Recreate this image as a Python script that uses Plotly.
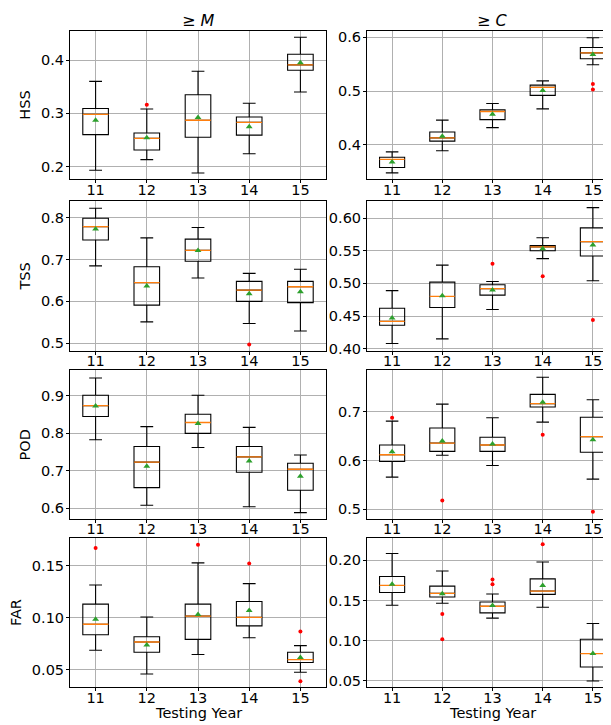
import plotly.graph_objects as go

years = [11, 12, 13, 14, 15]

# ---- HSS, >= M ----
hss_m_lo = [0.193, 0.213, 0.188, 0.224, 0.340]
hss_m_q1 = [0.260, 0.231, 0.255, 0.259, 0.381]
hss_m_med = [0.298, 0.253, 0.287, 0.283, 0.391]
hss_m_q3 = [0.309, 0.263, 0.335, 0.293, 0.411]
hss_m_hi = [0.360, 0.308, 0.379, 0.319, 0.443]
hss_m_mean = [0.287, 0.254, 0.292, 0.275, 0.395]
hss_m_out_x = [12]
hss_m_out_y = [0.316]

# ---- HSS, >= C ----
hss_c_lo = [0.348, 0.389, 0.432, 0.467, 0.549]
hss_c_q1 = [0.358, 0.407, 0.447, 0.492, 0.560]
hss_c_med = [0.373, 0.413, 0.462, 0.507, 0.571]
hss_c_q3 = [0.377, 0.424, 0.465, 0.511, 0.581]
hss_c_hi = [0.387, 0.446, 0.477, 0.519, 0.599]
hss_c_mean = [0.368, 0.416, 0.457, 0.501, 0.568]
hss_c_out_x = [15, 15]
hss_c_out_y = [0.513, 0.503]

# ---- TSS, >= M ----
tss_m_lo = [0.685, 0.551, 0.656, 0.547, 0.529]
tss_m_q1 = [0.747, 0.591, 0.696, 0.600, 0.597]
tss_m_med = [0.779, 0.645, 0.722, 0.627, 0.635]
tss_m_q3 = [0.799, 0.683, 0.749, 0.648, 0.648]
tss_m_hi = [0.823, 0.752, 0.777, 0.667, 0.677]
tss_m_mean = [0.773, 0.637, 0.722, 0.618, 0.623]
tss_m_out_x = [14]
tss_m_out_y = [0.497]

# ---- TSS, >= C ----
tss_c_lo = [0.408, 0.415, 0.460, 0.538, 0.504]
tss_c_q1 = [0.436, 0.463, 0.482, 0.550, 0.542]
tss_c_med = [0.442, 0.480, 0.492, 0.556, 0.564]
tss_c_q3 = [0.462, 0.502, 0.498, 0.558, 0.585]
tss_c_hi = [0.489, 0.528, 0.503, 0.570, 0.616]
tss_c_mean = [0.447, 0.481, 0.490, 0.553, 0.559]
tss_c_out_x = [13, 14, 15]
tss_c_out_y = [0.530, 0.511, 0.444]

# ---- POD, >= M ----
pod_m_lo = [0.783, 0.608, 0.762, 0.604, 0.588]
pod_m_q1 = [0.845, 0.655, 0.800, 0.696, 0.648]
pod_m_med = [0.874, 0.723, 0.829, 0.737, 0.704]
pod_m_q3 = [0.902, 0.765, 0.851, 0.765, 0.720]
pod_m_hi = [0.948, 0.818, 0.902, 0.816, 0.742]
pod_m_mean = [0.873, 0.712, 0.826, 0.726, 0.685]
pod_m_out_x = []
pod_m_out_y = []

# ---- POD, >= C ----
pod_c_lo = [0.566, 0.611, 0.590, 0.679, 0.562]
pod_c_q1 = [0.598, 0.619, 0.619, 0.710, 0.617]
pod_c_med = [0.612, 0.636, 0.632, 0.717, 0.649]
pod_c_q3 = [0.632, 0.667, 0.648, 0.736, 0.689]
pod_c_hi = [0.681, 0.716, 0.688, 0.771, 0.725]
pod_c_mean = [0.618, 0.640, 0.634, 0.720, 0.643]
pod_c_out_x = [11, 12, 14, 15]
pod_c_out_y = [0.688, 0.518, 0.653, 0.495]

# ---- FAR, >= M ----
far_m_lo = [0.0687, 0.0459, 0.0646, 0.0808, 0.0475]
far_m_q1 = [0.0837, 0.0668, 0.0792, 0.0922, 0.0570]
far_m_med = [0.0938, 0.0767, 0.1017, 0.1005, 0.0598]
far_m_q3 = [0.1132, 0.0817, 0.1132, 0.1157, 0.0668]
far_m_hi = [0.1316, 0.1008, 0.1529, 0.1329, 0.0732]
far_m_mean = [0.0986, 0.0738, 0.1033, 0.1071, 0.0617]
far_m_out_x = [11, 13, 14, 15, 15]
far_m_out_y = [0.1671, 0.1703, 0.1522, 0.0868, 0.0389]

# ---- FAR, >= C ----
far_c_lo = [0.1441, 0.1466, 0.1281, 0.1416, 0.0500]
far_c_q1 = [0.1601, 0.1544, 0.1347, 0.1577, 0.0673]
far_c_med = [0.1688, 0.1589, 0.1429, 0.1618, 0.0841]
far_c_q3 = [0.1799, 0.1679, 0.1482, 0.1770, 0.1018]
far_c_hi = [0.2086, 0.1868, 0.1581, 0.1979, 0.1215]
far_c_mean = [0.1704, 0.1585, 0.1437, 0.1688, 0.0841]
far_c_out_x = [12, 12, 13, 13, 14]
far_c_out_y = [0.1334, 0.1018, 0.1762, 0.1704, 0.2201]

row_labels = ["HSS", "TSS", "POD", "FAR"]
col_titles = ["\u2265 <i>M</i>", "\u2265 <i>C</i>"]
x_title = "Testing Year"

panels = [
    (hss_m_lo, hss_m_q1, hss_m_med, hss_m_q3, hss_m_hi, hss_m_mean, hss_m_out_x, hss_m_out_y),
    (hss_c_lo, hss_c_q1, hss_c_med, hss_c_q3, hss_c_hi, hss_c_mean, hss_c_out_x, hss_c_out_y),
    (tss_m_lo, tss_m_q1, tss_m_med, tss_m_q3, tss_m_hi, tss_m_mean, tss_m_out_x, tss_m_out_y),
    (tss_c_lo, tss_c_q1, tss_c_med, tss_c_q3, tss_c_hi, tss_c_mean, tss_c_out_x, tss_c_out_y),
    (pod_m_lo, pod_m_q1, pod_m_med, pod_m_q3, pod_m_hi, pod_m_mean, pod_m_out_x, pod_m_out_y),
    (pod_c_lo, pod_c_q1, pod_c_med, pod_c_q3, pod_c_hi, pod_c_mean, pod_c_out_x, pod_c_out_y),
    (far_m_lo, far_m_q1, far_m_med, far_m_q3, far_m_hi, far_m_mean, far_m_out_x, far_m_out_y),
    (far_c_lo, far_c_q1, far_c_med, far_c_q3, far_c_hi, far_c_mean, far_c_out_x, far_c_out_y),
]

# layout settings (per panel): y-range, dtick, tick format
y_ranges = [[0.176, 0.455], [0.336, 0.612], [0.482, 0.840], [0.397, 0.626],
            [0.571, 0.968], [0.480, 0.785], [0.033, 0.177], [0.042, 0.228]]
y_dticks = [0.1, 0.1, 0.1, 0.05, 0.1, 0.1, 0.05, 0.05]
y_fmts = [".1f", ".1f", ".1f", ".2f", ".1f", ".1f", ".2f", ".2f"]

W, H = 611, 725
col_px = [(62, 318), (359, 610)]
row_px = [(22, 172), (194, 345), (365, 515), (534, 685)]

FONT = "DejaVu Sans"
FS = 14.5
GRID = "#b0b0b0"

fig = go.Figure()
layout = dict(
    width=W, height=H, margin=dict(l=0, r=0, t=0, b=0),
    paper_bgcolor="white", plot_bgcolor="white", showlegend=False,
    font=dict(family=FONT, size=FS, color="black"), boxmode="overlay",
)

for i, (lo, q1, med, q3, hi, mean, ox, oy) in enumerate(panels):
    r, c = divmod(i, 2)
    n = i + 1
    xa = "x" if n == 1 else f"x{n}"
    ya = "y" if n == 1 else f"y{n}"
    # box + whiskers
    fig.add_trace(go.Box(
        x=years, q1=q1, median=med, q3=q3, lowerfence=lo, upperfence=hi,
        width=0.5, whiskerwidth=0.5, boxpoints=False,
        line=dict(color="black", width=1.1), fillcolor="rgba(0,0,0,0)",
        xaxis=xa, yaxis=ya, hoverinfo="skip",
    ))
    # median line (orange) drawn over the black one
    fig.add_trace(go.Box(
        x=years, q1=med, median=med, q3=med, lowerfence=med, upperfence=med,
        width=0.5, whiskerwidth=0, boxpoints=False,
        line=dict(color="#ff7f0e", width=1.3), fillcolor="rgba(0,0,0,0)",
        xaxis=xa, yaxis=ya, hoverinfo="skip",
    ))
    # means
    fig.add_trace(go.Scatter(
        x=years, y=mean, mode="markers",
        marker=dict(symbol="triangle-up", color="#2ca02c", size=6),
        xaxis=xa, yaxis=ya,
    ))
    # outliers
    if ox:
        fig.add_trace(go.Scatter(
            x=ox, y=oy, mode="markers",
            marker=dict(symbol="circle", color="red", size=4),
            xaxis=xa, yaxis=ya,
        ))
    x0, x1 = col_px[c]
    y0, y1 = row_px[r]
    axis_common = dict(
        showline=True, linecolor="black", linewidth=1, mirror=True,
        ticks="outside", ticklen=3, tickcolor="black",
        showgrid=True, gridcolor=GRID, gridwidth=1, zeroline=False,
        tickfont=dict(family=FONT, size=FS, color="black"),
    )
    xdict = dict(axis_common, domain=[x0 / W, x1 / W], range=[10.5, 15.5],
                 tickmode="array", tickvals=years, ticktext=[str(y) for y in years],
                 anchor=ya, ticklabelstandoff=-6)
    ydict = dict(axis_common, domain=[1 - y1 / H, 1 - y0 / H], range=y_ranges[i],
                 dtick=y_dticks[i], tick0=0, tickformat=y_fmts[i], anchor=xa,
                 ticklabelstandoff=-1)
    if c == 0:
        ydict["title"] = dict(text=row_labels[r], font=dict(family=FONT, size=FS), standoff=6)
    layout["xaxis" if n == 1 else f"xaxis{n}"] = xdict
    layout["yaxis" if n == 1 else f"yaxis{n}"] = ydict

annotations = []
for c in range(2):
    x0, x1 = col_px[c]
    annotations.append(dict(
        text=col_titles[c], x=(x0 + x1) / 2 / W, y=1 - 12 / H,
        xref="paper", yref="paper", showarrow=False, xanchor="center", yanchor="middle",
        font=dict(family=FONT, size=16, color="black"),
    ))
    annotations.append(dict(
        text=x_title, x=(x0 + x1) / 2 / W, y=1 - 711 / H,
        xref="paper", yref="paper", showarrow=False, xanchor="center", yanchor="middle",
        font=dict(family=FONT, size=FS, color="black"),
    ))
layout["annotations"] = annotations

fig.update_layout(**layout)
fig.write_html("out.html")
